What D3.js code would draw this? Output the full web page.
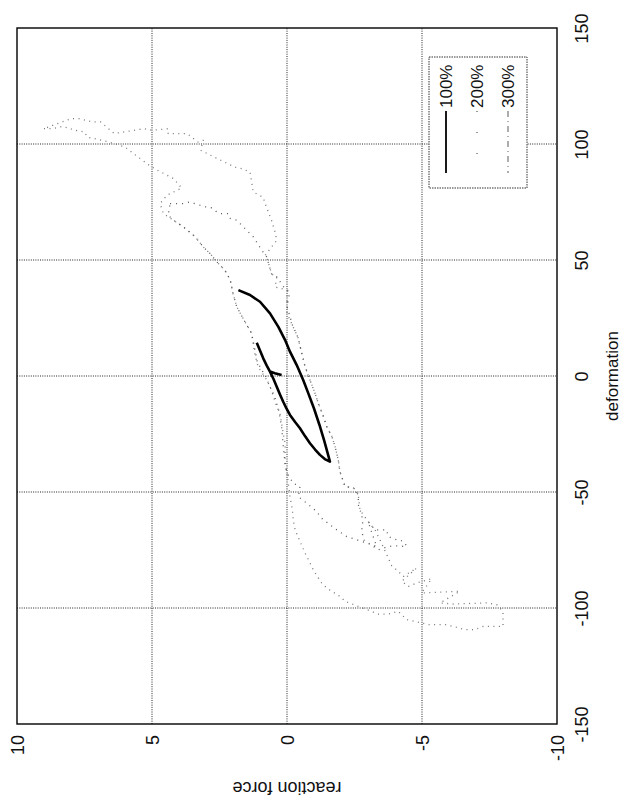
<!DOCTYPE html>
<html>
<head>
<meta charset="utf-8">
<script src="https://cdn.jsdelivr.net/npm/d3@7"></script>
<style>
    body { margin: 0; background: #fff; }
    text { font-family: "Liberation Sans", Arial, sans-serif; fill: #111; }
</style>
</head>
<body>
<div id="chart"></div>
<script>
// the figure was scanned sideways: deformation runs up the page, reaction force runs right-to-left
const forceTicks = [10, 5, 0, -5, -10]
const deformationTicks = [-150, -100, -50, 0, 50, 100, 150]
const seriesNames = ['100%', '200%', '300%']

// [reaction force, deformation], null = pen up
const loop100 = [
    [0.2, 0.4], [0.45, 1.2], [0.63, 1.9], null,
    [1.8, 37], [1.37, 34.9], [1.0, 32], [0.63, 27], [0.32, 21.2], [0.07, 15.5], [-0.11, 10.5],
    [-0.36, 4.7], [-0.6, -1.7], [-0.79, -7.5], [-1.0, -14], [-1.2, -21], [-1.38, -28], [-1.5, -33],
    [-1.59, -36.9], [-1.4, -35.8], [-1.22, -34], [-1.04, -31.7], [-0.85, -29], [-0.66, -25.8],
    [-0.48, -22.5], [-0.3, -19.8], [-0.11, -16.8], [0.02, -14], [0.14, -11.1], [0.26, -8],
    [0.38, -4.6], [0.5, -1.3], [0.63, 1.9], [0.75, 4.5], [0.88, 7.6], [1.0, 11], [1.12, 14.3]
]

const loop200 = [
    [4.33, 74.3], [3.84, 74.3], [3.6, 75], [3.22, 73.6], [3.04, 72.9], [2.85, 72.9], [2.6, 70.7],
    [2.48, 70], [2.17, 70], [2.1, 67.9], [1.86, 67.1], [1.74, 65.7], [1.25, 60], [0.81, 52],
    [0.75, 51.3], [0.57, 44], [0.38, 42.7], [0.1, 38], [-0.1, 36], [0, 30], [-0.2, 22], [-0.4, 16.8],
    [-0.67, 4], [-0.85, -1.7], [-1.04, -7.5], [-1.16, -11.8], [-1.35, -17.5], [-1.47, -21.8],
    [-1.66, -26], [-1.78, -30.4], [-1.9, -36.2], [-1.96, -41.2], [-2.15, -47.6], [-2.47, -48.3],
    [-2.64, -51.2], [-2.64, -55.5], [-2.7, -57.7], [-2.77, -59.8], [-2.8, -63.4], [-2.77, -66.3],
    [-2.83, -70.6], [-3.38, -74.9], [-3.75, -73.5], [-4.0, -73.2], [-4.43, -73.5], [-4.37, -72],
    [-4.19, -70.6], [-4.06, -70.6], [-3.75, -69.2], [-3.69, -66.3], [-3.26, -66.3], [-3.0, -62.7],
    [-3.32, -73.5], [-2.95, -72], [-2.58, -70.6], [-2.21, -69.2], [-1.84, -66.3], [-1.59, -64.1],
    [-1.28, -61.3], [-1.1, -58.4], [-0.73, -54.8], [-0.42, -52], [-0.48, -47.6], [-0.23, -46.2],
    [0, -41.9], [0.07, -38], [0.14, -30], [0.2, -22], [0.3, -15], [0.45, -9], [0.63, -4.6], [0.8, 0],
    [1.1, 6], [1.31, 18.4], [1.56, 23.4], [1.86, 29.8], [2.0, 35.6], [2.1, 41.3], [2.3, 45.6],
    [2.6, 49.2], [2.85, 52.8], [3.1, 55.6], [3.4, 60], [3.84, 64.3], [4.2, 67.1], [4.4, 69.3], [4.33, 74.3]
]

const loop300 = [
    [9.0, 106.6], [8.7, 106.6], [8.3, 107.6], [7.85, 105.9], [7.5, 105.2], [7.4, 103], [6.6, 100.9],
    [6.0, 98.7], [5.6, 95.1], [5.1, 90.8], [4.8, 88.7], [4.2, 85.1], [3.9, 81], [4.45, 77.9], [4.7, 74.3],
    [4.58, 70], [4.2, 67.1], [3.84, 64.3], [3.4, 60], [3.1, 55.6], [2.85, 52.8], [2.6, 49.2], [2.3, 45.6],
    [2.1, 41.3], [2.0, 35.6], [1.86, 29.8], [1.56, 23.4], [1.31, 18.4], [1.2, 10], [1.07, 4], [0.75, -1.7],
    [0.63, -4.6], [0.5, -8.9], [0.38, -13.2], [0.26, -16.1], [0.2, -20.4], [0.14, -24.7], [0.07, -29],
    [0.07, -33.3], [0.07, -38.3], [0, -41.9], [-0.11, -52], [-0.2, -57.7], [-0.23, -62], [-0.3, -66.3],
    [-0.48, -71.3], [-0.67, -76.3], [-0.85, -80.6], [-0.97, -83.5], [-1.28, -89.2], [-1.47, -91.4],
    [-1.96, -95], [-2.15, -97.1], [-2.89, -100.4], [-3.38, -102.6], [-3.75, -102.6], [-4.12, -101.4],
    [-4.43, -105], [-5.27, -107.2], [-5.9, -107.2], [-6.6, -109.3], [-6.96, -109.3], [-7.27, -107.9],
    [-7.64, -107.9], [-8.0, -107.9], [-8.0, -101.4], [-7.77, -98.6], [-7.4, -97.8], [-6.16, -98.3],
    [-5.67, -97.8], [-6.4, -92.8], [-4.99, -93.5], [-5.36, -87.4], [-4.8, -89.2], [-4.5, -90.7],
    [-4.25, -88.5], [-4.8, -82.8], [-4.31, -86.4], [-4.12, -84.2], [-3.88, -81.8], [-3.5, -72],
    [-3.26, -66.3], [-3.0, -62.7], [-2.7, -57.7], [-2.64, -51.2], [-2.47, -48.3], [-2.15, -47.6],
    [-1.96, -41.2], [-1.9, -36.2], [-1.78, -30.4], [-1.66, -26], [-1.47, -21.8], [-1.35, -17.5],
    [-1.16, -11.8], [-1.04, -7.5], [-0.85, -1.7], [-0.67, 4], [-0.4, 16.8], [0, 27], [0, 37],
    [0.44, 38.4], [0.38, 42.7], [0.57, 44], [0.75, 51.3], [0.81, 52], [0.38, 58.5], [0.44, 62],
    [0.57, 67], [0.81, 74.3], [0.88, 77], [1.25, 79.3], [1.37, 87.9], [1.68, 89.4], [1.93, 90],
    [2.7, 94.4], [3.2, 97.3], [3.1, 101.6], [3.3, 100.9], [3.7, 104.5], [4.1, 104.5], [4.4, 104.5],
    [4.4, 106.6], [5.0, 105.9], [5.3, 106.6], [6.4, 104.5], [6.9, 109.5], [7.2, 109.5], [7.7, 110.9],
    [8.0, 110.9], [8.5, 108.8], [9.0, 106.6]
]

const seriesData = [loop100, loop200, loop300]
const seriesStyle = [
    { stroke: '#000', width: 2.6, dash: null },
    { stroke: '#555', width: 1.3, dash: '1 5' },
    { stroke: '#777', width: 1.3, dash: '1 4.5' }
]

const width = 624,
    height = 801

const x = d3.scaleLinear().domain([10, -10]).range([17, 557])
const y = d3.scaleLinear().domain([-150, 150]).range([724, 28])

const svg = d3.select('#chart')
    .append('svg')
    .attr('width', width)
    .attr('height', height)

svg.append('rect').attr('width', width).attr('height', height).attr('fill', '#fff')

// grid
const grid = svg.append('g')
    .attr('stroke', '#222')
    .attr('stroke-width', 1)
    .attr('stroke-dasharray', '1 1.3')
grid.selectAll('.gx')
    .data(forceTicks.slice(1, -1))
    .enter()
    .append('line')
    .attr('x1', d => x(d)).attr('x2', d => x(d))
    .attr('y1', y(-150)).attr('y2', y(150))
grid.selectAll('.gy')
    .data(deformationTicks.slice(1, -1))
    .enter()
    .append('line')
    .attr('x1', x(10)).attr('x2', x(-10))
    .attr('y1', d => y(d)).attr('y2', d => y(d))

// series, drawn back to front
const line = d3.line()
    .defined(d => d !== null)
    .x(d => x(d[0]))
    .y(d => y(d[1]))

const order = [2, 1, 0]
order.forEach(i => {
    svg.append('path')
        .datum(seriesData[i])
        .attr('d', line)
        .attr('fill', 'none')
        .attr('stroke', seriesStyle[i].stroke)
        .attr('stroke-width', seriesStyle[i].width)
        .attr('stroke-dasharray', seriesStyle[i].dash)
        .attr('stroke-linejoin', 'round')
})

// frame
svg.append('rect')
    .attr('x', x(10)).attr('y', y(150))
    .attr('width', x(-10) - x(10)).attr('height', y(-150) - y(150))
    .attr('fill', 'none')
    .attr('stroke', '#000')
    .attr('stroke-width', 1.4)

const fmt = d => String(d)

// reaction force axis along the bottom, labels turned on their side
const forceAxis = svg.append('g')
    .attr('transform', `translate(0,${y(-150)})`)
    .call(d3.axisBottom(x).tickValues(forceTicks).tickSize(0).tickFormat(fmt))
forceAxis.select('.domain').remove()
forceAxis.selectAll('text')
    .attr('x', -11)
    .attr('y', 6)
    .attr('dy', null)
    .attr('transform', 'rotate(-90)')
    .style('text-anchor', 'end')
    .style('font-size', '18px')
    .style('font-family', '"Liberation Sans", Arial, sans-serif')
    .attr('fill', '#000')

// deformation axis on the right
const defAxis = svg.append('g')
    .attr('transform', `translate(${x(-10)},0)`)
    .call(d3.axisRight(y).tickValues(deformationTicks).tickSize(0).tickFormat(fmt))
defAxis.select('.domain').remove()
defAxis.selectAll('text')
    .attr('x', 0)
    .attr('y', 31)
    .attr('dy', null)
    .attr('transform', 'rotate(-90)')
    .style('text-anchor', 'middle')
    .style('font-size', '18px')
    .style('font-family', '"Liberation Sans", Arial, sans-serif')
    .attr('fill', '#000')

svg.append('text')
    .attr('transform', `translate(618,${y(0)}) rotate(-90)`)
    .attr('text-anchor', 'middle')
    .style('font-size', '17px')
    .text('deformation')

svg.append('text')
    .attr('transform', `translate(${x(0)},782) rotate(180)`)
    .attr('text-anchor', 'middle')
    .style('font-size', '18px')
    .text('reaction force')

// legend
const legend = svg.append('g')
legend.append('rect')
    .attr('x', 429).attr('y', 57)
    .attr('width', 98).attr('height', 131)
    .attr('fill', '#fff')
    .attr('stroke', '#333')
    .attr('stroke-width', 1)
    .attr('stroke-dasharray', '1.5 1')

seriesNames.forEach((name, i) => {
    const cx = 446 + i * 31
    legend.append('line')
        .attr('x1', cx).attr('x2', cx)
        .attr('y1', 111).attr('y2', 173)
        .attr('stroke', i === 0 ? '#000' : seriesStyle[i].stroke)
        .attr('stroke-width', i === 0 ? 1.8 : 1.2)
        .attr('stroke-dasharray', i === 0 ? null : (i === 1 ? '1 20' : '6 4 1 4'))
    legend.append('text')
        .attr('transform', `translate(${cx + 6},108) rotate(-90)`)
        .attr('text-anchor', 'start')
        .style('font-size', '17px')
        .text(name)
})
</script>
</body>
</html>
